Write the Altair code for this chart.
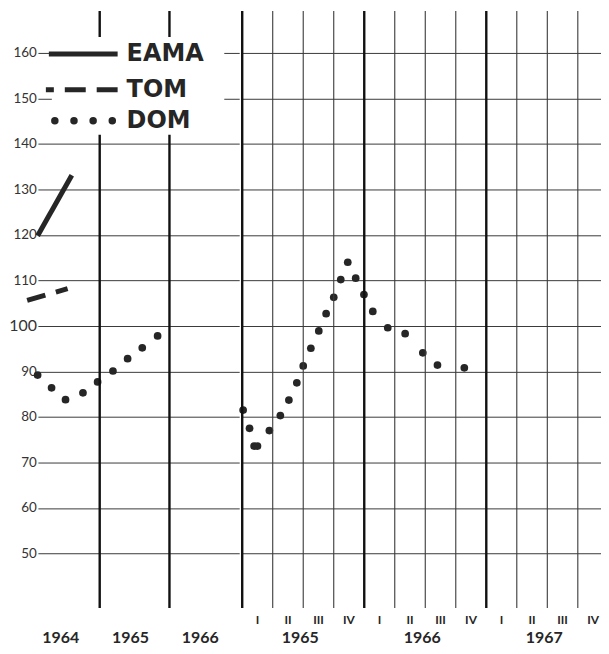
import altair as alt
import pandas as pd

# ---------------- data ----------------
Y_TICKS = [50, 60, 70, 80, 90, 100, 110, 120, 130, 140, 150, 160]

# Left panel: annual scale 1964-1966 (x = year as decimal)
eama_year = [1964.11, 1964.60]
eama_value = [119.8, 133.1]
tom_year = [1963.96, 1964.54]
tom_value = [105.6, 108.2]
dom_year = [1964.11, 1964.31, 1964.51, 1964.76, 1964.97, 1965.19, 1965.40, 1965.61, 1965.83]
dom_value = [89.2, 86.4, 83.8, 85.3, 87.7, 90.1, 92.8, 95.2, 97.8]
left_years = [1964, 1965, 1966]

# Right panel: quarterly scale 1965-1967 (x = quarters since start of 1965)
dom_quarter = [0.03, 0.24, 0.39, 0.50, 0.89, 1.25, 1.53, 1.79, 2.00, 2.25, 2.51, 2.75,
               3.00, 3.23, 3.46, 3.72, 3.99, 4.28, 4.77, 5.34, 5.92, 6.40, 7.28]
dom_q_value = [81.5, 77.5, 73.6, 73.6, 77.0, 80.3, 83.7, 87.5, 91.2, 95.1, 98.9, 102.7,
               106.3, 110.2, 114.0, 110.5, 106.9, 103.2, 99.6, 98.3, 94.1, 91.4, 90.8]
right_years = [1965, 1966, 1967]
quarter_names = ["I", "II", "III", "IV"]

# ---------------- tables ----------------
eama_df = pd.DataFrame({"x": eama_year, "v": eama_value})
tom_df = pd.DataFrame({"x": tom_year, "v": tom_value})
dom_left_df = pd.DataFrame({"x": dom_year, "v": dom_value})
left_bounds_df = pd.DataFrame({"x": [y + 1 for y in left_years[:-1]]})
left_years_df = pd.DataFrame({"x": [y + 0.5 for y in left_years], "label": [str(y) for y in left_years]})

dom_right_df = pd.DataFrame({"x": dom_quarter, "v": dom_q_value})
n_q = 4 * len(right_years)
qlines_df = pd.DataFrame({"q": list(range(n_q))})
qlabels_df = pd.DataFrame({"x": [i + 0.5 for i in range(n_q)],
                           "label": [quarter_names[i % 4] for i in range(n_q)]})
ryears_df = pd.DataFrame({"x": [4 * i + 2 for i in range(len(right_years))],
                          "label": [str(y) for y in right_years]})
one = pd.DataFrame({"a": [0]})

# ---------------- style ----------------
INK = "#262626"
GRID = "#3a3a3a"
FONT = "Lato"
LFONT = "DejaVu Sans"
H = 599
W_LEFT = 202
W_RIGHT = 360

y_scale = alt.Scale(domain=[38, 169.2], nice=False, zero=False)
lx = alt.Scale(domain=[1964.114, 1967], nice=False, zero=False)
rx = alt.Scale(domain=[0, 11.76], nice=False, zero=False)

left_axis = alt.Axis(values=Y_TICKS, grid=True, gridColor=GRID, gridWidth=1, gridOpacity=1,
                     ticks=False, domain=False, labelPadding=1.5, labelFont=FONT,
                     labelColor="#333333",
                     labelFontSize={"condition": {"test": "datum.value == 100", "value": 16},
                                    "value": 13.5},
                     minExtent=0, title=None)
right_axis = alt.Axis(values=Y_TICKS, grid=True, gridColor=GRID, gridWidth=1, gridOpacity=1,
                      ticks=False, domain=False, labels=False, minExtent=0, maxExtent=0,
                      title=None)

yl = alt.Y("v:Q", scale=y_scale, axis=left_axis)
yr = alt.Y("v:Q", scale=y_scale, axis=right_axis)

# ---------------- left panel ----------------
l_rules = alt.Chart(left_bounds_df).mark_rule(color="#111111", strokeWidth=2.4).encode(
    x=alt.X("x:Q", scale=lx, axis=None))

l_box = alt.Chart(one).mark_rect(fill="white").encode(
    x=alt.value(14), x2=alt.value(187), y=alt.value(26), y2=alt.value(124))

leg_eama = alt.Chart(one).mark_rule(color=INK, strokeWidth=5).encode(
    x=alt.value(11), x2=alt.value(80), y=alt.value(43))
leg_tom = alt.Chart(one).mark_rule(color=INK, strokeWidth=5, strokeDash=[21, 11],
                                   strokeDashOffset=13).encode(
    x=alt.value(8), x2=alt.value(80), y=alt.value(79))
leg_dom = alt.Chart(one).mark_rule(color=INK, strokeWidth=7.5, strokeCap="round",
                                   strokeDash=[0.01, 19.2]).encode(
    x=alt.value(17), x2=alt.value(75), y=alt.value(110))

def leg_text(label, ypos):
    return alt.Chart(one).mark_text(align="left", baseline="middle", font=LFONT,
                                    fontWeight="bold", fontSize=24, color=INK).encode(
        x=alt.value(89), y=alt.value(ypos), text=alt.value(label))

eama = alt.Chart(eama_df).mark_line(color=INK, strokeWidth=5).encode(
    x=alt.X("x:Q", scale=lx, axis=None), y=yl)
tom = alt.Chart(tom_df).mark_line(color=INK, strokeWidth=5, strokeDash=[19, 11]).encode(
    x=alt.X("x:Q", scale=lx, axis=None), y=yl)
dom_l = alt.Chart(dom_left_df).mark_circle(size=60, color=INK, opacity=1).encode(
    x=alt.X("x:Q", scale=lx, axis=None), y=yl)
l_years = alt.Chart(left_years_df).mark_text(font=FONT, fontSize=16, fontWeight="bold",
                                             color=INK, dx=-4, baseline="middle").encode(
    x=alt.X("x:Q", scale=lx, axis=None), y=alt.value(629), text="label:N")

left = alt.layer(
    dom_l, l_rules, l_box, leg_eama, leg_tom, leg_dom,
    leg_text("EAMA", 43), leg_text("TOM", 79), leg_text("DOM", 110),
    eama, tom, l_years,
).properties(width=W_LEFT, height=H)

# ---------------- right panel ----------------
thin = alt.Chart(qlines_df).transform_filter("datum.q % 4 != 0").mark_rule(
    color="#3a3a3a", strokeWidth=1.1).encode(x=alt.X("q:Q", scale=rx, axis=None))
thick = alt.Chart(qlines_df).transform_filter("datum.q % 4 == 0").mark_rule(
    color="#111111", strokeWidth=2.4).encode(x=alt.X("q:Q", scale=rx, axis=None))
dom_r = alt.Chart(dom_right_df).mark_circle(size=60, color=INK, opacity=1).encode(
    x=alt.X("x:Q", scale=rx, axis=None), y=yr)
q_labels = alt.Chart(qlabels_df).mark_text(font=FONT, fontSize=12, fontWeight="bold",
                                           color=INK, baseline="middle").encode(
    x=alt.X("x:Q", scale=rx, axis=None), y=alt.value(611), text="label:N")
r_years = alt.Chart(ryears_df).mark_text(font=FONT, fontSize=16, fontWeight="bold",
                                         color=INK, dx=-3, baseline="middle").encode(
    x=alt.X("x:Q", scale=rx, axis=None), y=alt.value(629), text="label:N")

right = alt.layer(dom_r, thin, thick, q_labels, r_years).properties(width=W_RIGHT, height=H)

chart = alt.hconcat(left, right, spacing=0).properties(
    padding={"left": 0, "top": 0, "right": 0, "bottom": 0},
    background="white",
).configure_view(stroke=None)

chart.save("out.html", embed_options={"renderer": "svg", "actions": False})
